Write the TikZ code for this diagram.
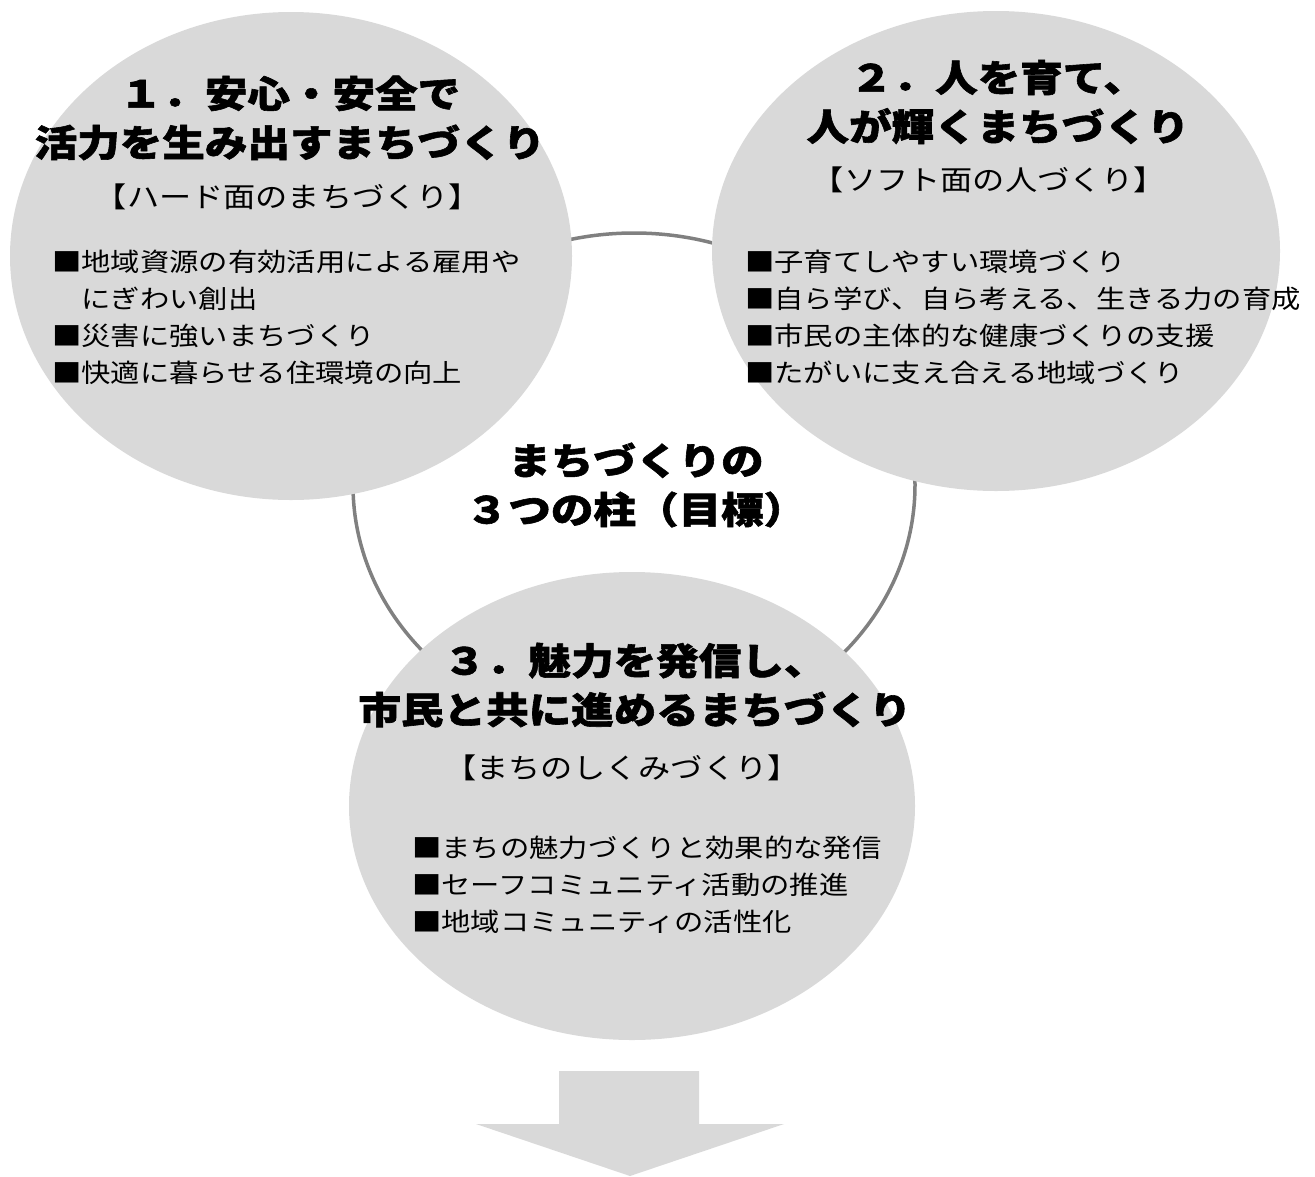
\documentclass[tikz,border=0pt]{standalone}
\usepackage{fontspec}
\setmainfont{Noto Sans CJK JP}[FakeStretch=1.15, BoldFeatures={FakeBold=1.6}]
\usepackage{xcolor}
\usetikzlibrary{positioning}
\definecolor{PillarGray}{RGB}{217,217,217}
\definecolor{RingGray}{RGB}{128,128,128}
\tikzset{
    pillar/.style={fill=PillarGray, draw=none},
    ringline/.style={draw=RingGray, line width=3.5pt},
    titletext/.style={align=center, inner sep=0pt, font=\fontsize{37}{49}\selectfont\bfseries},
    subtext/.style={align=center, inner sep=0pt, font=\fontsize{28}{34}\selectfont},
    itemtext/.style={align=left, inner sep=0pt, font=\fontsize{25.5}{37}\selectfont}
}

\begin{document}
\begin{tikzpicture}[x=1pt, y=-1pt]
    \useasboundingbox (0,0) rectangle (1315,1176);
    % centres of the pillars
    \coordinate (hard) at (291,256);
    \coordinate (soft) at (996,251);
    \coordinate (sys) at (632,806);
    \coordinate (core) at (634,485);

    \draw[ringline] (core) ellipse [x radius=281, y radius=252];
    \fill[pillar] (hard) ellipse [x radius=281, y radius=244];
    \fill[pillar] (soft) ellipse [x radius=284, y radius=240];
    \fill[pillar] (sys) ellipse [x radius=283, y radius=234];

    % 1
    \node[titletext] (hardtitle) at (290,118) {１．安心・安全で\\活力を生み出すまちづくり};
    \node[subtext] (hardsub) at (288,197) {【ハード面のまちづくり】};
    \node[itemtext, anchor=west] (harditems) at (52,317) {■地域資源の有効活用による雇用や\\　にぎわい創出\\■災害に強いまちづくり\\■快適に暮らせる住環境の向上};

    % 2
    \node[titletext] (softtitle) at (998,102) {２．人を育て、\\人が輝くまちづくり};
    \node[subtext] (softsub) at (989,180) {【ソフト面の人づくり】};
    \node[itemtext, anchor=west] (softitems) at (745,317) {■子育てしやすい環境づくり\\■自ら学び、自ら考える、生きる力の育成\\■市民の主体的な健康づくりの支援\\■たがいに支え合える地域づくり};

    % centre
    \node[titletext] (coretext) at (636,485) {まちづくりの\\３つの柱（目標）};

    % 3
    \node[titletext] (systitle) at (635,685) {３．魅力を発信し、\\市民と共に進めるまちづくり};
    \node[subtext] (syssub) at (622,768) {【まちのしくみづくり】};
    \node[itemtext, anchor=west] (sysitems) at (412,885) {■まちの魅力づくりと効果的な発信\\■セーフコミュニティ活動の推進\\■地域コミュニティの活性化};

    % arrow
    \fill[pillar] (559,1071) -- (699,1071) -- (699,1124) -- (784,1124) -- (630,1176)
        -- (476,1124) -- (559,1124) -- cycle;
\end{tikzpicture}
\end{document}
